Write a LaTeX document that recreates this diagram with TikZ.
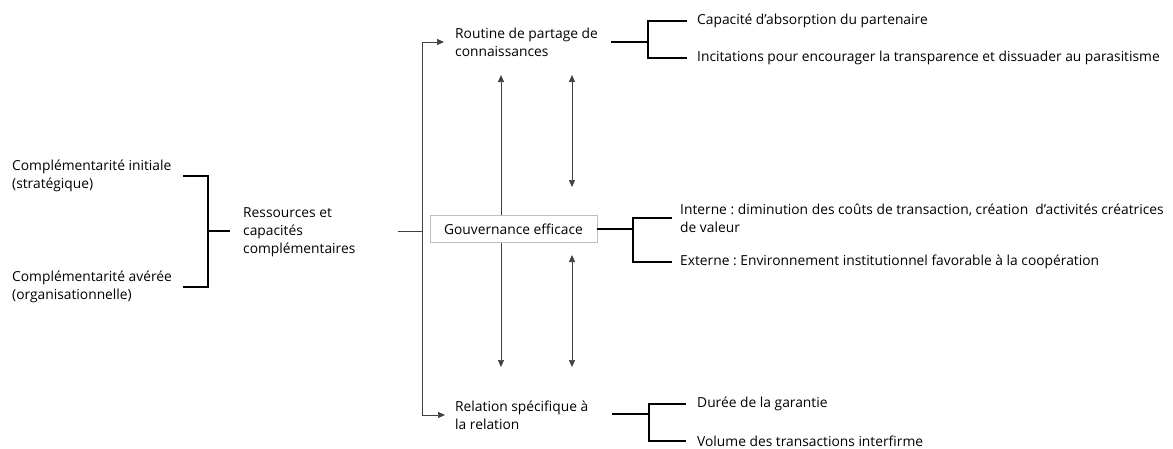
\documentclass[tikz,border=0pt]{standalone}
\usepackage{fontspec}
\setmainfont{Open Sans}
\usetikzlibrary{arrows.meta}
\frenchspacing
\tikzset{
  lbl/.style={anchor=west,align=left,inner sep=0pt,font=\fontsize{13.8}{18}\selectfont},
  brace/.style={line width=1.2pt,black},
  link/.style={line width=0.7pt,black!75},
  tip/.style={-{Triangle[length=7pt,width=6pt]}},
  tips/.style={{Triangle[length=7pt,width=6pt]}-{Triangle[length=7pt,width=6pt]}},
}
\begin{document}
\begin{tikzpicture}[x=1pt,y=-1pt]
\useasboundingbox (0,0) rectangle (1173,448);
% left side
\node[lbl] (ci) at (12,176) {Complémentarité initiale\\(stratégique)};
\node[lbl] (ca) at (12,287) {Complémentarité avérée\\(organisationnelle)};
\node[lbl] (rc) at (243,232) {Ressources et\\capacités\\complémentaires};
\coordinate (ci-e) at (183,176);
\coordinate (ca-e) at (183,287);
\coordinate (lj) at (208,231);
\draw[brace] (ci-e) -| (lj) |- (ca-e);
\draw[brace,shorten >=13pt] (lj) -- (rc.west |- lj);
% middle column
\node[lbl] (rp) at (455,42) {Routine de partage de\\connaissances};
\node[lbl] (rs) at (455,415) {Relation spécifique à\\la relation};
\node[draw=black!25,line width=0.7pt,minimum width=167,minimum height=27,
  inner sep=0pt,font=\fontsize{13.8}{18}\selectfont] (ge) at (513.5,229) {Gouvernance efficace};
\coordinate (in0) at (398,231);
\coordinate (hub) at (422,231);
\draw[link] (in0) -- (hub);
\draw[link,tip,shorten >=11pt] (hub) |- (rp.west);
\draw[link,tip,shorten >=10pt] (hub) |- (rs.west);
\coordinate (up1) at (501,75);
\coordinate (dn1) at (501,367);
\draw[link,tip] (ge.north -| up1) -- (up1);
\draw[link,tip] (ge.south -| dn1) -- (dn1);
\coordinate (a1) at (572,75);
\coordinate (a2) at (572,187);
\coordinate (a3) at (572,255);
\coordinate (a4) at (572,367);
\draw[link,tips] (a1) -- (a2);
\draw[link,tips] (a3) -- (a4);
% right side, top
\node[lbl] (cap) at (697,21) {Capacité d’absorption du partenaire};
\node[lbl] (inc) at (697,58) {Incitations pour encourager la transparence et dissuader au parasitisme};
\coordinate (ts) at (611,42);
\coordinate (tj) at (648,42);
\draw[brace] (ts) -- (tj);
\draw[brace,shorten <=10pt,shorten >=10pt] (cap.west) -| (tj) |- (inc.west);
% right side, middle
\node[lbl] (int) at (680,218) {Interne : diminution des coûts de transaction, création\ \ d’activités créatrices\\de valeur};
\node[lbl] (ext) at (680,262) {Externe : Environnement institutionnel favorable à la coopération};
\coordinate (mj) at (633,229);
\draw[brace] (ge.east) -- (mj);
\draw[brace,shorten <=8pt,shorten >=8pt] (int.west) -| (mj) |- (ext.west);
% right side, bottom
\node[lbl] (dur) at (697,404) {Durée de la garantie};
\node[lbl] (vol) at (697,441) {Volume des transactions interfirme};
\coordinate (bs) at (612,414);
\coordinate (bj) at (649,414);
\draw[brace] (bs) -- (bj);
\draw[brace,shorten <=11pt,shorten >=11pt] (dur.west) -| (bj) |- (vol.west);
\end{tikzpicture}
\end{document}
